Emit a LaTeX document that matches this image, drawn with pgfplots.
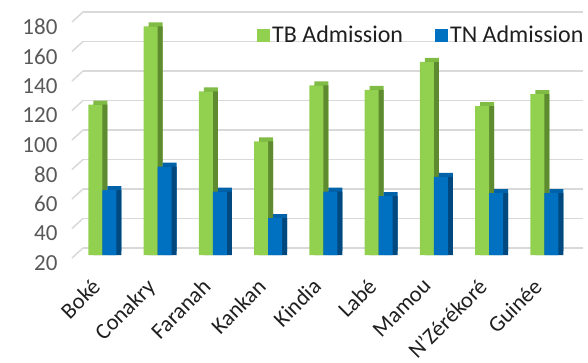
\documentclass[border=0pt]{standalone}
\usepackage{fontspec}
\setmainfont{Carlito}
\usepackage{pgfplots}
\usepackage{pgfplotstable}
\pgfplotsset{compat=1.18}

\definecolor{gfront}{HTML}{92D050}
\definecolor{gtop}{HTML}{80BC45}
\definecolor{gside}{HTML}{5E8B30}
\definecolor{bfront}{HTML}{0070C0}
\definecolor{btop}{HTML}{0062A8}
\definecolor{bside}{HTML}{00487D}
\definecolor{gridc}{HTML}{D9D9D9}
\definecolor{tickc}{HTML}{595959}
\definecolor{labc}{HTML}{1F1F1F}

% region, TB admissions, TN admissions
\pgfplotstableread{
x tb tn
0 122 64
1 175 80
2 131 63
3 97 45
4 135 63
5 132 60
6 151 73
7 121 62
8 129 62
}\admissions

\begin{document}
\begin{tikzpicture}
\useasboundingbox (0pt,0pt) rectangle (588pt,362pt);
\begin{axis}[
    at={(72pt,107pt)}, anchor=south west,
    scale only axis,
    width=500pt, height=236pt,
    xmin=-0.55, xmax=8.5,
    ymin=20, ymax=180,
    ytick={20,40,...,180},
    xtick={0,...,8},
    xticklabels={Boké,Conakry,Faranah,Kankan,Kindia,Labé,Mamou,N’Zérékoré,Guinée},
    axis line style={draw=none},
    major tick length=0pt,
    ymajorgrids,
    major grid style={draw=gridc, line width=1.5pt, xshift=11pt, yshift=7pt},
    yticklabel style={font=\fontsize{23}{27}\selectfont, text=tickc, xshift=-11pt, yshift=-8pt},
    xticklabel style={font=\fontsize{22.5}{27}\selectfont, text=labc, inner sep=0pt,
        xshift=-12pt, yshift=-22pt, anchor=north east, rotate=45},
    /pgf/number format/assume math mode=true,
    clip=false,
    legend columns=2,
    legend style={at={(0.37,0.932)}, anchor=west, draw=none, fill=none,
        font=\fontsize{24}{28}\selectfont, text=labc, inner sep=0pt,
        /tikz/every even column/.append style={column sep=30pt}},
]
% 3D look: top and side faces drawn behind each front face
\addplot[ybar, bar width=14pt, bar shift=-2pt, yshift=4pt, fill=gtop, draw=none, forget plot]
    table[x=x, y=tb] {\admissions};
\addplot[ybar, bar width=14pt, bar shift=-2pt, fill=gside, draw=none, forget plot]
    table[x=x, y=tb] {\admissions};
\addplot[ybar, bar width=14pt, bar shift=-7pt, fill=gfront, draw=none,
    legend image code/.code={\fill[gfront] (0pt,-6.5pt) rectangle (13pt,6.5pt);}]
    table[x=x, y=tb] {\admissions};
\addlegendentry{TB Admission}
\addplot[ybar, bar width=14pt, bar shift=12pt, yshift=4pt, fill=btop, draw=none, forget plot]
    table[x=x, y=tn] {\admissions};
\addplot[ybar, bar width=14pt, bar shift=12pt, fill=bside, draw=none, forget plot]
    table[x=x, y=tn] {\admissions};
\addplot[ybar, bar width=14pt, bar shift=7pt, fill=bfront, draw=none,
    legend image code/.code={\fill[bfront] (0pt,-6.5pt) rectangle (13pt,6.5pt);}]
    table[x=x, y=tn] {\admissions};
\addlegendentry{TN Admission}
% slanted floor lines at the left wall
\pgfplotsinvokeforeach{20,40,60,80,100,120,140,160,180}{
    \draw[gridc, line width=1.5pt] ([yshift=-3pt]axis cs:-0.55,#1) -- ([xshift=11pt,yshift=7pt]axis cs:-0.55,#1);
}
\end{axis}
\end{tikzpicture}
\end{document}
